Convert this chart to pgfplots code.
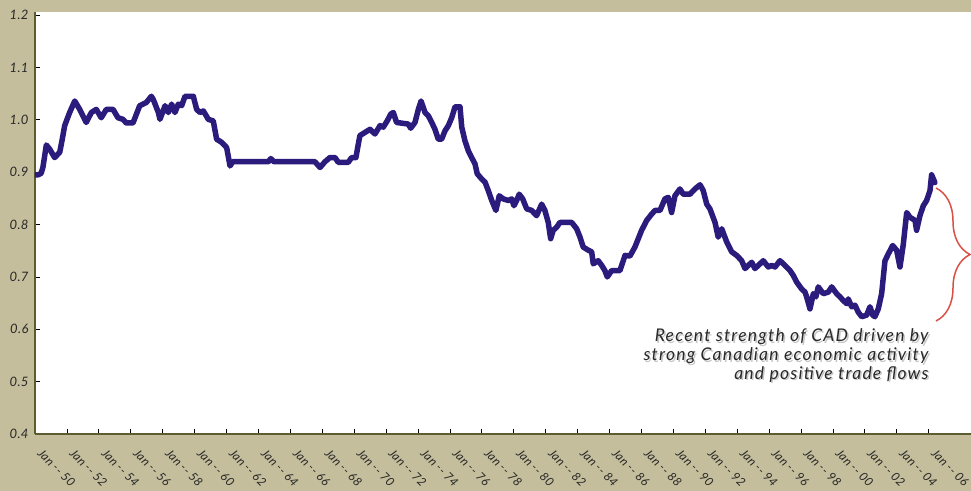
\documentclass[border=0pt]{standalone}
\usepackage{fontspec}
\setmainfont{Lato}
\newfontfamily\gillish[LetterSpace=3]{Lato}
\newfontfamily\gillann[LetterSpace=7]{Lato}
\usepackage{pgfplots}
\pgfplotsset{compat=1.18}
\usetikzlibrary{decorations.pathreplacing}
\definecolor{bgtan}{RGB}{196,190,156}
\definecolor{axolive}{RGB}{92,92,46}
\definecolor{cadline}{RGB}{43,27,125}
\definecolor{bracered}{RGB}{217,80,70}
\definecolor{txtgray}{RGB}{40,40,40}
\begin{document}
\begin{tikzpicture}
\useasboundingbox (0,0) rectangle (971bp,491bp);
\fill[bgtan] (0,0) rectangle (971bp,491bp);
\begin{axis}[
  at={(35bp,57bp)}, anchor=south west,
  scale only axis, width=936bp, height=422bp,
  xmin=1950, xmax=2008.65, ymin=0.4, ymax=1.206,
  axis x line=bottom, axis y line=left,
  axis line style={-, draw=axolive, line width=2.5bp},
  axis background/.style={fill=white},
  tick align=inside, major tick length=5bp,
  tick style={black, line width=0.8bp},
  xtick={1950,1952,...,2006},
  xticklabels={Jan -- 50,Jan -- 52,Jan -- 54,Jan -- 56,Jan -- 58,Jan -- 60,Jan -- 62,Jan -- 64,Jan -- 66,Jan -- 68,Jan -- 70,Jan -- 72,Jan -- 74,Jan -- 76,Jan -- 78,Jan -- 80,Jan -- 82,Jan -- 84,Jan -- 86,Jan -- 88,Jan -- 90,Jan -- 92,Jan -- 94,Jan -- 96,Jan -- 98,Jan -- 00,Jan -- 02,Jan -- 04,Jan -- 06},
  xticklabel style={yshift=-13bp, xshift=8bp, rotate=-45, anchor=north west, font=\fontsize{12bp}{14bp}\gillish\itshape, text=txtgray, inner sep=0.5bp},
  ytick={0.4,0.5,...,1.21},
  yticklabel style={font=\fontsize{13bp}{15bp}\gillish\itshape, text=txtgray, xshift=-3bp},
  /pgf/number format/.cd, fixed, fixed zerofill, precision=1, assume math mode=true,
]
\addplot[cadline, line width=5.5bp, line join=round, line cap=round] coordinates {
(1950.00,0.895) (1950.19,0.895) (1950.39,0.898) (1950.50,0.910) (1950.71,0.952)
(1950.92,0.944) (1951.23,0.928) (1951.55,0.938) (1951.69,0.960) (1951.86,0.989)
(1952.17,1.014) (1952.49,1.036) (1952.80,1.020) (1953.21,0.995) (1953.53,1.014)
(1953.84,1.020) (1954.15,1.004) (1954.47,1.020) (1954.89,1.020) (1955.20,1.004)
(1955.51,1.001) (1955.72,0.994) (1956.14,0.994) (1956.56,1.027) (1956.97,1.033)
(1957.29,1.045) (1957.41,1.039) (1957.73,1.014) (1957.83,1.001) (1958.15,1.027)
(1958.35,1.014) (1958.56,1.030) (1958.77,1.014) (1958.98,1.030) (1959.19,1.027)
(1959.40,1.045) (1959.92,1.045) (1960.13,1.020) (1960.34,1.014) (1960.55,1.017)
(1960.86,1.001) (1961.17,0.998) (1961.38,0.963) (1961.70,0.957) (1962.01,0.947)
(1962.22,0.912) (1962.39,0.920) (1964.62,0.920) (1964.77,0.926) (1964.98,0.920)
(1967.54,0.920) (1967.86,0.909) (1968.17,0.920) (1968.48,0.928) (1968.80,0.928)
(1969.00,0.919) (1969.63,0.919) (1969.84,0.928) (1970.11,0.928) (1970.26,0.954)
(1970.36,0.970) (1970.68,0.976) (1970.99,0.982) (1971.30,0.973) (1971.62,0.989)
(1971.82,0.986) (1972.07,0.998) (1972.29,1.011) (1972.45,1.014) (1972.66,0.995)
(1973.39,0.992) (1973.54,0.984) (1973.81,0.995) (1974.02,1.020) (1974.19,1.036)
(1974.44,1.014) (1974.64,1.008) (1974.86,0.995) (1975.06,0.982) (1975.27,0.963)
(1975.48,0.963) (1975.69,0.979) (1975.90,0.989) (1976.11,1.004) (1976.32,1.025)
(1976.63,1.025) (1976.74,0.986) (1976.94,0.960) (1977.15,0.941) (1977.36,0.928)
(1977.57,0.916) (1977.71,0.897) (1977.99,0.887) (1978.20,0.881) (1978.40,0.865)
(1978.62,0.846) (1978.88,0.827) (1979.09,0.855) (1979.34,0.849) (1979.66,0.846)
(1979.87,0.849) (1980.01,0.836) (1980.18,0.846) (1980.34,0.858) (1980.56,0.849)
(1980.81,0.830) (1981.12,0.827) (1981.43,0.817) (1981.75,0.839) (1981.95,0.827)
(1982.16,0.804) (1982.31,0.773) (1982.47,0.789) (1982.69,0.795) (1982.89,0.804)
(1983.63,0.804) (1983.94,0.792) (1984.15,0.776) (1984.35,0.757) (1984.67,0.751)
(1984.88,0.748) (1984.98,0.725) (1985.29,0.731) (1985.51,0.722) (1985.71,0.712)
(1985.86,0.700) (1986.13,0.712) (1986.65,0.712) (1986.97,0.741) (1987.28,0.740)
(1987.59,0.757) (1988.01,0.789) (1988.33,0.808) (1988.64,0.820) (1988.85,0.827)
(1989.16,0.827) (1989.47,0.849) (1989.68,0.852) (1989.89,0.823) (1990.10,0.855)
(1990.41,0.868) (1990.62,0.858) (1991.04,0.858) (1991.35,0.868) (1991.67,0.876)
(1991.87,0.865) (1992.09,0.839) (1992.29,0.830) (1992.61,0.804) (1992.81,0.776)
(1993.03,0.792) (1993.34,0.767) (1993.65,0.748) (1993.97,0.741) (1994.28,0.731)
(1994.49,0.716) (1994.91,0.728) (1995.11,0.716) (1995.43,0.725) (1995.63,0.731)
(1995.95,0.719) (1996.16,0.722) (1996.37,0.719) (1996.68,0.731) (1996.99,0.722)
(1997.31,0.712) (1997.51,0.703) (1997.73,0.690) (1998.04,0.677) (1998.25,0.671)
(1998.35,0.662) (1998.56,0.639) (1998.77,0.668) (1998.93,0.662) (1999.08,0.681)
(1999.39,0.668) (1999.71,0.671) (1999.92,0.681) (2000.23,0.668) (2000.44,0.662)
(2000.64,0.655) (2000.86,0.649) (2000.96,0.658) (2001.17,0.643) (2001.38,0.646)
(2001.58,0.633) (2001.80,0.624) (2002.11,0.627) (2002.32,0.643) (2002.49,0.627)
(2002.63,0.624) (2002.84,0.639) (2003.05,0.668) (2003.26,0.731) (2003.47,0.744)
(2003.74,0.760) (2003.99,0.751) (2004.20,0.719) (2004.41,0.763) (2004.62,0.823)
(2004.82,0.814) (2005.14,0.808) (2005.24,0.789) (2005.45,0.817) (2005.66,0.836)
(2005.87,0.846) (2006.08,0.865) (2006.18,0.895) (2006.39,0.880)
};
\end{axis}
\draw[bracered, line width=1.5bp, decorate, decoration={brace, amplitude=34bp}] (936bp,303bp) -- (936bp,170bp);
\node[anchor=north east, align=right, text=gray!45, font=\fontsize{17.5bp}{18.7bp}\gillann\itshape] at (933.5bp,164bp) {Recent strength of CAD driven by\\strong Canadian economic activity\\and positive trade flows};
\node[anchor=north east, align=right, text=txtgray, font=\fontsize{17.5bp}{18.7bp}\gillann\itshape] at (932bp,165.5bp) {Recent strength of CAD driven by\\strong Canadian economic activity\\and positive trade flows};
\end{tikzpicture}
\end{document}
